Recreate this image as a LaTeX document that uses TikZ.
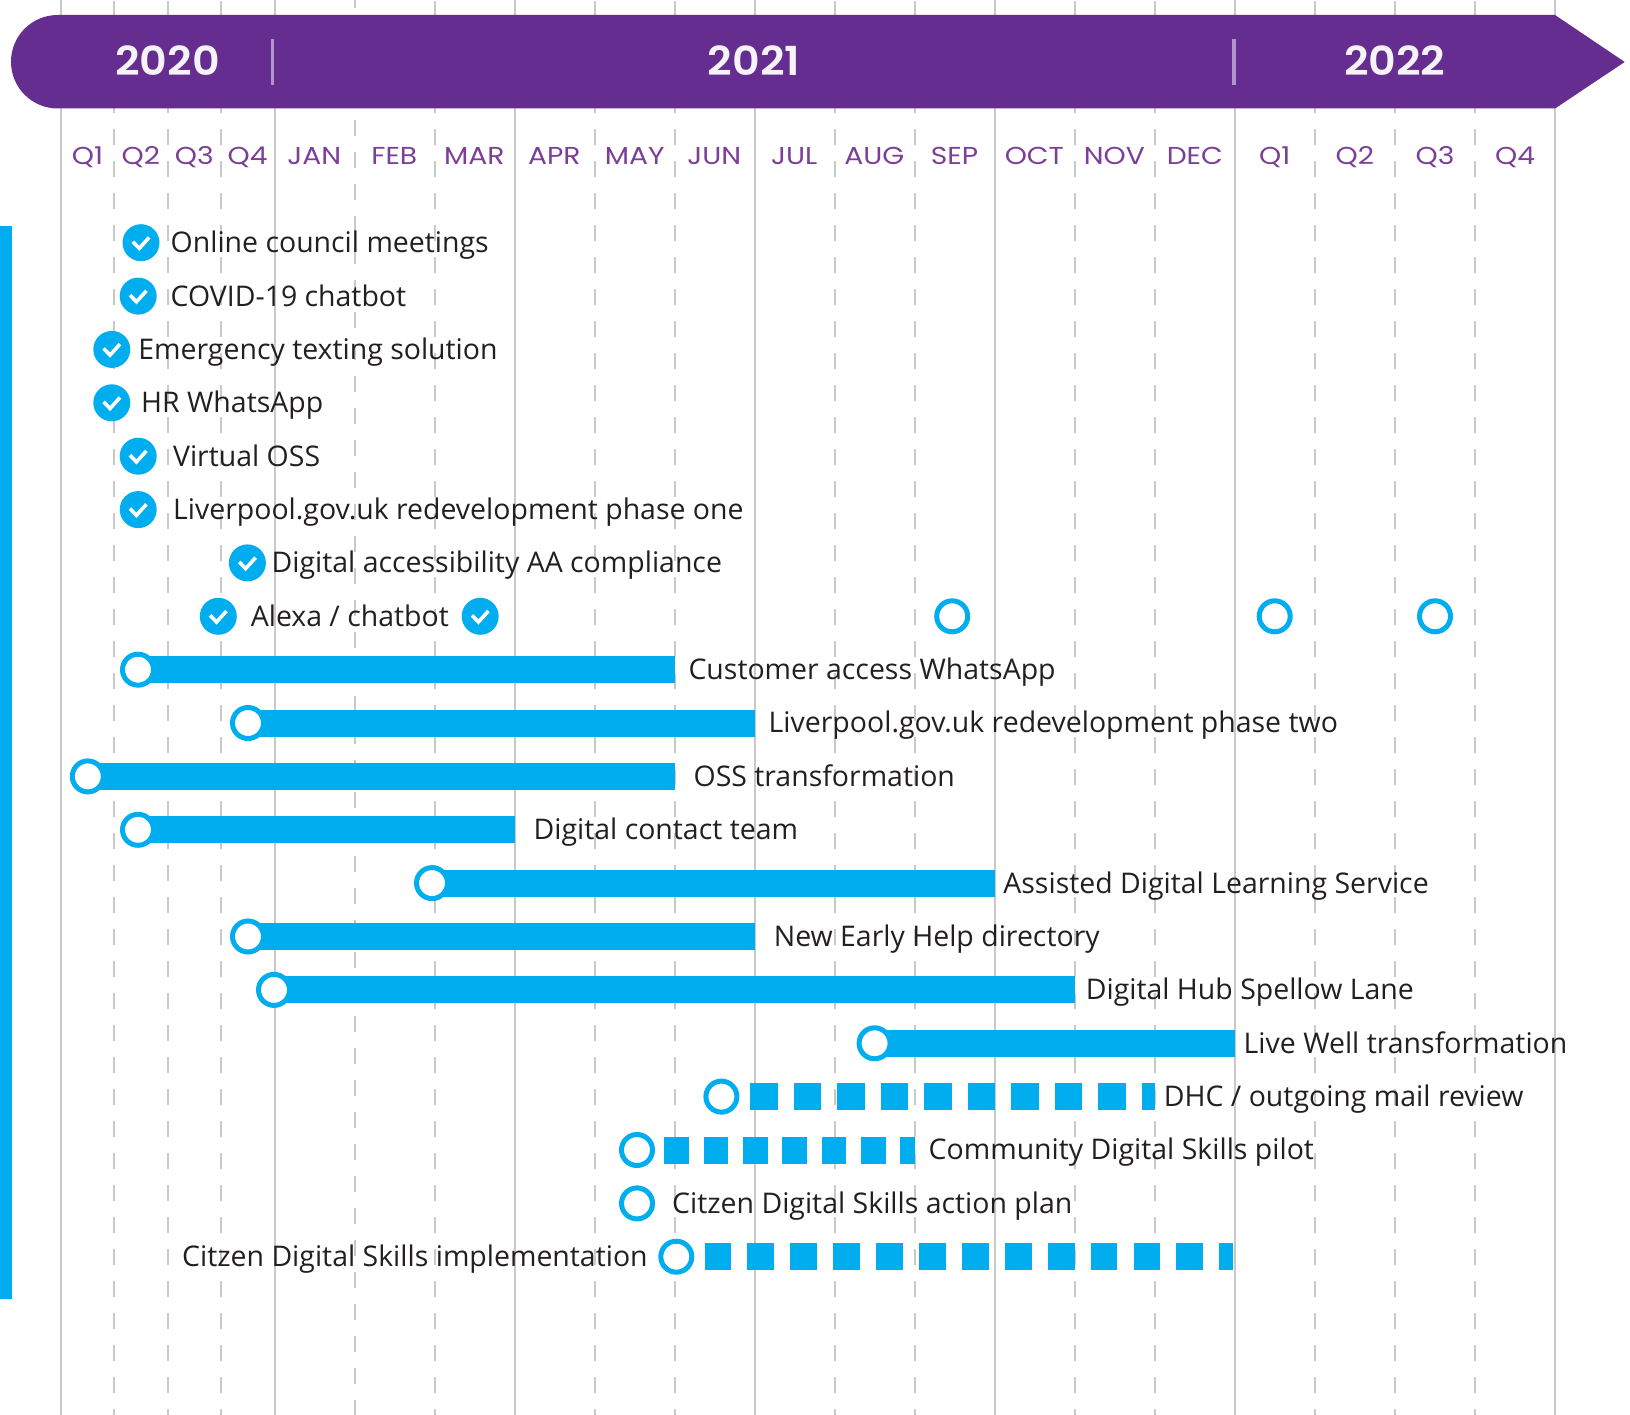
\documentclass[tikz,border=0pt]{standalone}
\usepackage{fontspec}
\setmainfont{Open Sans}
\newfontfamily\mont[FakeStretch=1.15]{Poppins}
\newfontfamily\montyear[FakeStretch=1.07]{Poppins SemiBold}
\pgfdeclarelayer{gridlayer}
\pgfdeclarelayer{barlayer}
\pgfsetlayers{gridlayer,barlayer,main}
\definecolor{purplebar}{HTML}{652D90}
\definecolor{monthpurple}{HTML}{7B3F98}
\definecolor{skyblue}{HTML}{00AEEF}
\definecolor{gridgray}{HTML}{C9C9C9}
\definecolor{inktext}{HTML}{231F20}
\definecolor{sepcolor}{HTML}{B094CC}
\tikzset{
  gridsolid/.style={draw=gridgray,line width=2pt},
  griddash/.style={draw=gridgray,line width=2pt,dash pattern=on 16pt off 16pt},
  year/.style={inner sep=0pt,text=white!94!purplebar,font=\montyear\fontsize{40}{46}\selectfont},
  month/.style={inner sep=0pt,anchor=base,text=monthpurple,font=\mont\fontsize{24.5}{28}\selectfont},
  label/.style={inner sep=0pt,anchor=base west,text=inktext,font=\fontsize{28.45}{34}\selectfont},
  donecircle/.style={circle,fill=skyblue,draw=none,minimum size=37pt,inner sep=0pt},
  opencircle/.style={circle,fill=white,draw=skyblue,line width=5pt,minimum size=31pt,inner sep=0pt},
  barsolid/.style={draw=skyblue,line width=27pt},
  tick/.style={draw=white,line width=3.6pt,miter limit=10},
}
\newcommand\doneitem[5]{%
  \node[donecircle] (d#1) at (#2,#3) {};
  \draw[tick] ([shift={(-8.2,-1)}]d#1.center) -- ([shift={(-1.8,5.7)}]d#1.center) -- ([shift={(8.2,-5.3)}]d#1.center);
  \node[label] (t#1) at (#4,#3+9.9) {#5};
}
\newcommand\baritem[6]{%
  \node[opencircle] (c#1) at (#2,#3) {};
  \coordinate (e#1) at (#4,#3);
  \begin{pgfonlayer}{barlayer}
    \draw[barsolid] (c#1.center) -- (e#1);
  \end{pgfonlayer}
  \node[label] (t#1) at (#5,#3+9.9) {#6};
}
\newcommand\dashitem[7]{%
  \node[opencircle] (c#1) at (#2,#3) {};
  \coordinate (s#1) at (#4,#3);
  \coordinate (e#1) at (#5,#3);
  \draw[barsolid,dash pattern=#6] (s#1) -- (e#1);
  \node[label] (t#1) at (#7,#3+9.9) {\csname labeltext#1\endcsname};
}
\begin{document}
\begin{tikzpicture}[x=1pt,y=-1pt]
\useasboundingbox (0,0) rectangle (1630,1415);
% grid
\begin{pgfonlayer}{gridlayer}
\foreach \gx in {61,274.6,514.6,754.6,994.8,1234.8,1555}
  \draw[gridsolid] (\gx,0) -- (\gx,1415);
\foreach \gx in {114.3,167.6,221,434.6,594.6,674.6,834.6,914.6,1074.6,1154.6,1314.5,1394.6,1474.8}
  \draw[griddash] (\gx,1) -- (\gx,1415);
\draw[griddash] (354.6,-8) -- (354.6,1415);
\end{pgfonlayer}
% header
\fill[purplebar] (1555,15) -- (1624.7,62) -- (1555,108.5) -- (57.7,108.5)
  .. controls (31.9,108.5) and (11,87.6) .. (11,61.75)
  .. controls (11,35.9) and (31.9,15) .. (57.7,15) -- cycle;
\fill[sepcolor] (271,39) rectangle (274.4,85);
\fill[sepcolor] (1232.2,39) rectangle (1235.6,85);
\node[year] (y2020) at (167.5,60.8) {2020};
\node[year] (y2021) at (754,60.8) {2021};
\node[year] (y2022) at (1394.8,60.8) {2022};
% months
\foreach \mx/\mt in {87.6/Q1,140.9/Q2,194.3/Q3,247.6/Q4,314.3/JAN,394.3/FEB,474.3/MAR,554.3/APR,634.6/MAY,714.3/JUN,794.3/JUL,874.3/AUG,954.4/SEP,1034.4/OCT,1114.4/NOV,1194.8/DEC,1274.8/Q1,1354.9/Q2,1435/Q3,1515/Q4}
  \node[month] at (\mx,164.2) {\mt};
% left band
\fill[skyblue] (0,226) rectangle (12.4,1299.4);
% completed items
\doneitem{a}{141}{242.7}{170.5}{Online council meetings}
\doneitem{b}{138.2}{296.1}{170.5}{COVID-19 chatbot}
\doneitem{c}{111.8}{349.4}{138.2}{Emergency texting solution}
\doneitem{d}{111.8}{402.8}{141}{HR WhatsApp}
\doneitem{e}{138.2}{456.2}{172.9}{Virtual OSS}
\doneitem{f}{138.2}{509.6}{172.9}{Liverpool.gov.uk redevelopment phase one}
\doneitem{g}{247.4}{562.9}{271.4}{Digital accessibility AA compliance}
\doneitem{h}{218.3}{616.3}{250.6}{Alexa / chatbot}
\node[donecircle] (dh2) at (480.2,616.3) {};
\draw[tick] ([shift={(-8.2,-1)}]dh2.center) -- ([shift={(-1.8,5.7)}]dh2.center) -- ([shift={(8.2,-5.3)}]dh2.center);
\node[opencircle] (m1) at (952.2,616.3) {};
\node[opencircle] (m2) at (1274.7,616.3) {};
\node[opencircle] (m3) at (1435,616.3) {};
% bars
\baritem{i}{138}{669.7}{674.8}{688.3}{Customer access WhatsApp}
\baritem{j}{248}{723}{754.6}{768.5}{Liverpool.gov.uk redevelopment phase two}
\baritem{k}{87.8}{776.4}{674.8}{693.4}{OSS transformation}
\baritem{l}{138}{829.8}{514.6}{533.4}{Digital contact team}
\baritem{m}{432}{883.1}{994.8}{1003.2}{Assisted Digital Learning Service}
\baritem{n}{248}{936.5}{754.6}{773.6}{New Early Help directory}
\baritem{o}{274}{989.9}{1074.8}{1085.6}{Digital Hub Spellow Lane}
\baritem{p}{874.6}{1043.3}{1234.8}{1243.5}{Live Well transformation}
% dashed bars
\expandafter\def\csname labeltextq\endcsname{DHC / outgoing mail review}
\expandafter\def\csname labeltextr\endcsname{Community Digital Skills pilot}
\expandafter\def\csname labeltexts\endcsname{Citzen Digital Skills implementation}
\dashitem{q}{721.4}{1096.6}{750}{1155}{on 27.7pt off 15.8pt}{1163.7}
\dashitem{r}{637}{1150}{664.3}{914.7}{on 24.7pt off 14.6pt}{928.5}
\dashitem{s}{676.3}{1256.7}{704.5}{1232.6}{on 26.8pt off 16.1pt}{182}
\node[opencircle] (cu) at (637,1203.4) {};
\node[label] (tu) at (672,1213.3) {Citzen Digital Skills action plan};
\end{tikzpicture}
\end{document}
